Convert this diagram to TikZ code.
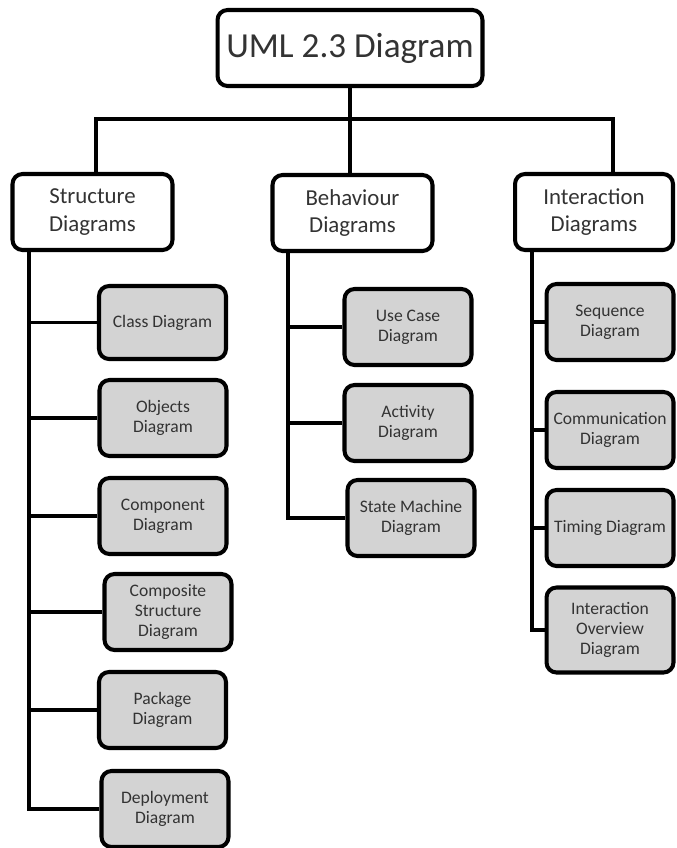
\documentclass[tikz,border=0pt]{standalone}
\usepackage{fontspec}
\setmainfont{Carlito}
\usepackage{tikz}
\usetikzlibrary{positioning,calc}
\definecolor{boxgray}{HTML}{D3D3D3}
\definecolor{txt}{HTML}{333333}

\begin{document}
\begin{tikzpicture}[x=0.02cm, y=-0.02cm,
    root/.style={rectangle, rounded corners=0.2cm, draw=black, line width=2.3pt, fill=white, minimum width=5.3cm, minimum height=1.52cm, font=\fontsize{20}{24}\selectfont, text=txt},
    group/.style={rectangle, rounded corners=0.2cm, draw=black, line width=2.3pt, fill=white, minimum width=3.2cm, minimum height=1.52cm, align=center, font=\fontsize{13}{15.5}\selectfont, text=txt},
    leaf/.style={rectangle, rounded corners=0.2cm, draw=black, line width=2.3pt, fill=boxgray, minimum width=2.54cm, minimum height=1.52cm, align=center, font=\fontsize{10}{11.5}\selectfont, text=txt},
    link/.style={line width=2pt, draw=black}
]
    \useasboundingbox (0,0) rectangle (676,848);

    % Root
    \node[root] (uml) at (350,48) {UML 2.3 Diagram};

    % Groups
    \node[group] (sd) at (92.5,212) {Structure\\Diagrams};
    \node[group] (bd) at (352.5,213) {Behaviour\\Diagrams};
    \node[group, minimum width=3.16cm] (id) at (594,212) {Interaction\\Diagrams};

    % Structure diagrams
    \node[leaf, minimum height=1.46cm] (class) at (162.5,322.5) {Class Diagram};
    \node[leaf] (objects) at (163,418) {Objects\\Diagram};
    \node[leaf] (component) at (163,516) {Component\\Diagram};
    \node[leaf] (composite) at (168,612) {Composite\\Structure\\Diagram};
    \node[leaf] (package) at (162.5,710) {Package\\Diagram};
    \node[leaf] (deploy) at (165,809) {Deployment\\Diagram};

    % Behaviour diagrams
    \node[leaf] (usecase) at (408,327) {Use Case\\Diagram};
    \node[leaf] (activity) at (408,423) {Activity\\Diagram};
    \node[leaf] (statem) at (411,518) {State Machine\\Diagram};

    % Interaction diagrams
    \node[leaf] (seq) at (610,322) {Sequence\\Diagram};
    \node[leaf] (comm) at (610,430) {Communication\\Diagram};
    \node[leaf] (timing) at (610,528) {Timing Diagram};
    \node[leaf, minimum height=1.7cm] (overview) at (610,630) {Interaction\\Overview\\Diagram};

    % Top bus
    \coordinate (busL) at (96,119);
    \coordinate (busR) at (613,119);
    \draw[link] (uml.south) -- (uml.south |- bd.north);
    \draw[link] (sd.north -| busL) |- (busR) -- (id.north -| busR);

    % Spines
    \coordinate (sspine) at (29,0);
    \coordinate (bspine) at (288,0);
    \coordinate (ispine) at (532,0);
    \draw[link] (sd.south -| sspine) |- (deploy.west);
    \foreach \n in {class,objects,component,composite,package}
        \draw[link] (\n.west) -- (\n.west -| sspine);
    \draw[link] (bd.south -| bspine) |- (statem.west);
    \foreach \n in {usecase,activity}
        \draw[link] (\n.west) -- (\n.west -| bspine);
    \draw[link] (id.south -| ispine) |- (overview.west);
    \foreach \n in {seq,comm,timing}
        \draw[link] (\n.west) -- (\n.west -| ispine);
\end{tikzpicture}
\end{document}
